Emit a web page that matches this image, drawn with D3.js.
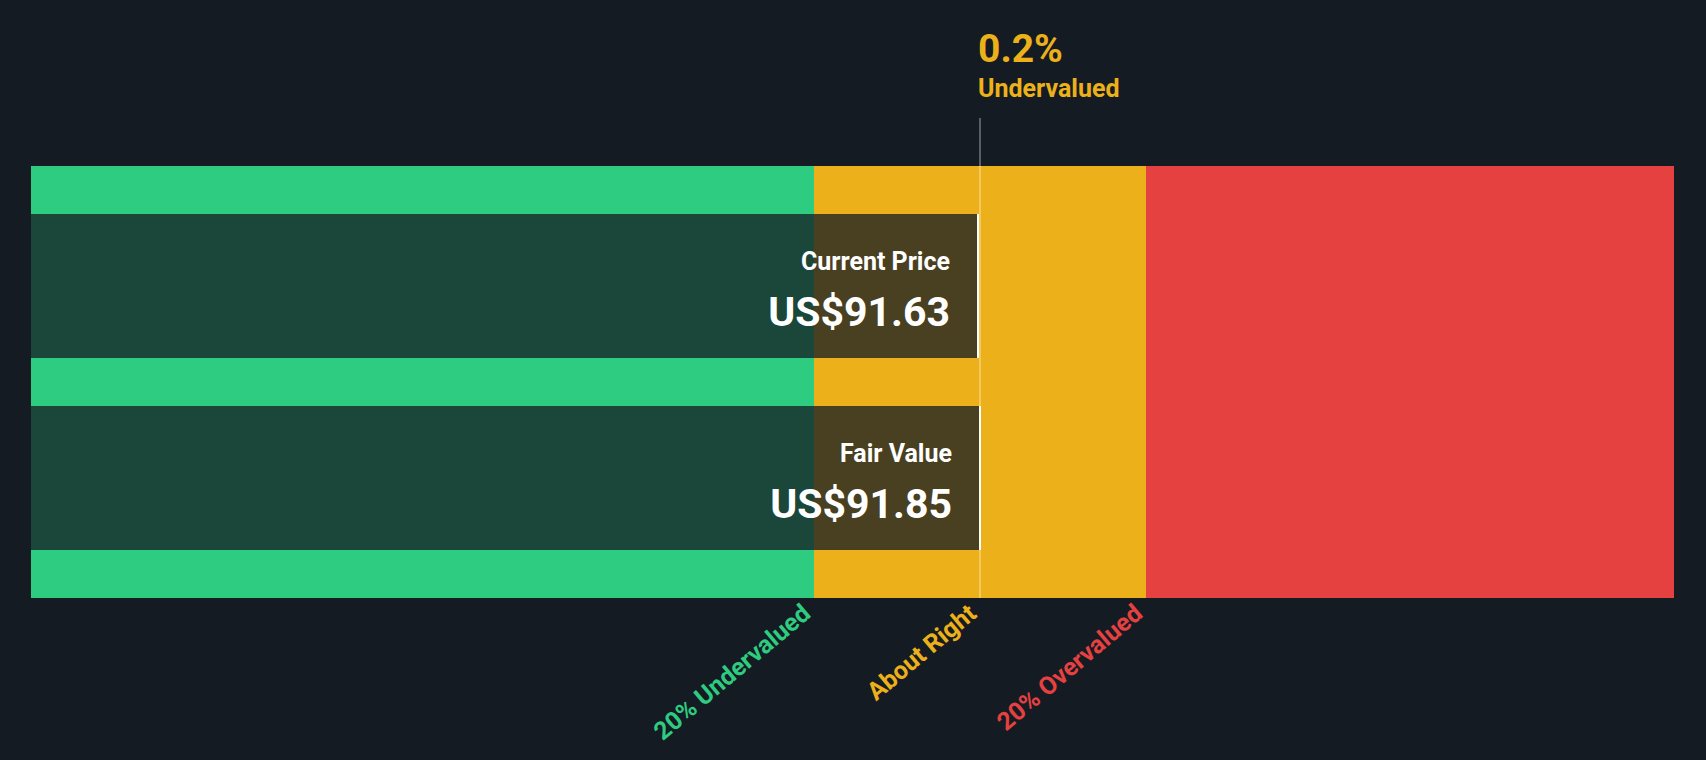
<!DOCTYPE html>
<html>
<head>
<meta charset="utf-8">
<script src="https://cdn.jsdelivr.net/npm/d3@7"></script>
<style>
  body { margin: 0; background: #151b23; }
  text { font-family: Roboto, "Noto Sans", sans-serif; font-weight: 700; }
</style>
</head>
<body>
<svg id="chart" width="1706" height="760"></svg>
<script>
// valuation data
var fairValue = 91.85;
var currentPrice = 91.63;
var zoneNames = ['20% Undervalued', 'About Right', '20% Overvalued'];
var zoneColors = ['#2ecc80', '#ecb11a', '#e64141'];
var zoneBounds = [0.8, 1.0, 1.2];   // multiples of fair value
var rowLabels = ['Current Price', 'Fair Value'];
var rowValues = [currentPrice, fairValue];
var diffLabel = '0.2%';
var diffText = 'Undervalued';

var svg = d3.select('#chart');
var plotLeft = 31, plotRight = 1674, plotTop = 166, plotBottom = 598;

// x scale: price -> pixel
var x = d3.scaleLinear()
    .domain([fairValue * 0.8, fairValue * 1.2])
    .range([814, 1146]);
x.domain([x.invert(plotLeft), x.invert(plotRight)]).range([plotLeft, plotRight]);

var zones = [
    { name: zoneNames[0], color: zoneColors[0], x0: x.domain()[0], x1: fairValue * zoneBounds[0] },
    { name: zoneNames[1], color: zoneColors[1], x0: fairValue * zoneBounds[0], x1: fairValue * zoneBounds[2] },
    { name: zoneNames[2], color: zoneColors[2], x0: fairValue * zoneBounds[2], x1: x.domain()[1] }
];

svg.selectAll('rect.zone')
    .data(zones)
    .enter().append('rect')
    .attr('class', 'zone')
    .attr('x', d => x(d.x0))
    .attr('width', d => x(d.x1) - x(d.x0))
    .attr('y', plotTop)
    .attr('height', plotBottom - plotTop)
    .attr('fill', d => d.color);

// faint line at fair value through the zones
svg.append('line')
    .attr('x1', x(fairValue)).attr('x2', x(fairValue))
    .attr('y1', 118).attr('y2', plotBottom)
    .attr('stroke', 'rgba(255,255,255,0.3)')
    .attr('stroke-width', 2);

var rowTops = [214, 406];
var rowH = 144;

rowValues.forEach(function (v, i) {
    var g = svg.append('g');
    g.append('rect')
        .attr('x', plotLeft)
        .attr('y', rowTops[i])
        .attr('width', x(v) - plotLeft)
        .attr('height', rowH)
        .attr('fill', 'rgba(21,27,35,0.76)');
    g.append('line')
        .attr('x1', x(v)).attr('x2', x(v))
        .attr('y1', rowTops[i]).attr('y2', rowTops[i] + rowH)
        .attr('stroke', '#ffffff').attr('stroke-width', 2);
    g.append('text')
        .attr('x', x(v) - 28)
        .attr('y', rowTops[i] + 56)
        .attr('text-anchor', 'end')
        .attr('fill', '#ffffff')
        .attr('font-size', 25)
        .text(rowLabels[i]);
    g.append('text')
        .attr('x', x(v) - 28)
        .attr('y', rowTops[i] + 112)
        .attr('text-anchor', 'end')
        .attr('fill', '#ffffff')
        .attr('font-size', 41)
        .text('US$' + v.toFixed(2));
});

// top marker labels
svg.append('text')
    .attr('x', x(currentPrice))
    .attr('y', 62)
    .attr('fill', zoneColors[1])
    .attr('font-size', 39)
    .text(diffLabel);
svg.append('text')
    .attr('x', x(currentPrice))
    .attr('y', 97)
    .attr('fill', zoneColors[1])
    .attr('font-size', 25)
    .text(diffText);

// rotated zone labels
svg.selectAll('text.zoneLabel')
    .data(zoneBounds)
    .enter().append('text')
    .attr('class', 'zoneLabel')
    .attr('text-anchor', 'end')
    .attr('font-size', 25)
    .attr('fill', (d, i) => zoneColors[i])
    .attr('transform', d => 'translate(' + (x(fairValue * d) - 2) + ',' + 616 + ') rotate(-40)')
    .text((d, i) => zoneNames[i]);
</script>
</body>
</html>
